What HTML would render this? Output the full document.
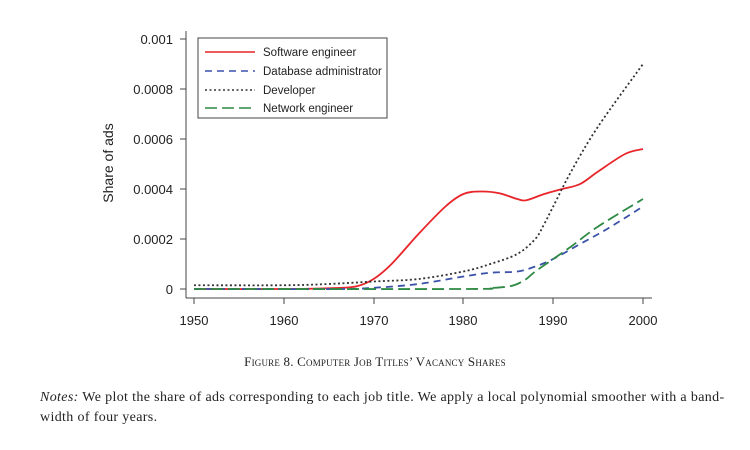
<!DOCTYPE html>
<html><head><meta charset="utf-8"><style>
body{margin:0;width:750px;height:450px;background:#fff;overflow:hidden;position:relative;font-family:"Liberation Sans",sans-serif}
.cap{position:absolute;left:0;width:750px;top:354px;text-align:center;font-family:"Liberation Serif",serif;font-size:13px;color:#222;font-variant:small-caps;letter-spacing:0.2px}
.notes{position:absolute;left:40px;width:710px;top:388px;font-family:"Liberation Serif",serif;font-size:14px;letter-spacing:0.35px;color:#222;line-height:20px;white-space:nowrap}
</style></head><body>
<svg id="s" width="750" height="340" style="position:absolute;left:0;top:0" font-family="Liberation Sans, sans-serif" font-size="13" fill="#222">
<line x1="186" y1="31" x2="186" y2="298" stroke="#444" stroke-width="1"/>
<line x1="186" y1="298" x2="652" y2="298" stroke="#444" stroke-width="1"/>
<g stroke="#444">
<line x1="180" y1="39" x2="186" y2="39"/><line x1="180" y1="89" x2="186" y2="89"/><line x1="180" y1="139" x2="186" y2="139"/><line x1="180" y1="189" x2="186" y2="189"/><line x1="180" y1="239" x2="186" y2="239"/><line x1="180" y1="289" x2="186" y2="289"/>
<line x1="194" y1="298" x2="194" y2="304"/><line x1="284" y1="298" x2="284" y2="304"/><line x1="374" y1="298" x2="374" y2="304"/><line x1="463" y1="298" x2="463" y2="304"/><line x1="553" y1="298" x2="553" y2="304"/><line x1="643" y1="298" x2="643" y2="304"/>
</g>
<g text-anchor="end">
<text x="173" y="44">0.001</text><text x="173" y="94">0.0008</text><text x="173" y="144">0.0006</text><text x="173" y="194">0.0004</text><text x="173" y="244">0.0002</text><text x="173" y="294">0</text>
</g>
<g text-anchor="middle">
<text x="194" y="325">1950</text><text x="284" y="325">1960</text><text x="374" y="325">1970</text><text x="463" y="325">1980</text><text x="553" y="325">1990</text><text x="643" y="325">2000</text>
</g>
<text transform="translate(113,163) rotate(-90)" text-anchor="middle" font-size="14">Share of ads</text>
<g id="curves"></g>
<rect x="198" y="38" width="189" height="80" fill="#fff" stroke="#444"/>
<line x1="205" y1="52" x2="255" y2="52" stroke="#e8252a" stroke-width="1.6"/>
<line x1="205" y1="71" x2="255" y2="71" stroke="#3a52a8" stroke-width="1.6" stroke-dasharray="7,5"/>
<line x1="205" y1="90" x2="255" y2="90" stroke="#333" stroke-width="1.6" stroke-dasharray="2,2.5"/>
<line x1="205" y1="108" x2="255" y2="108" stroke="#2e8a44" stroke-width="1.6" stroke-dasharray="12,5"/>
<g font-size="11.5"><text x="263" y="56">Software engineer</text><text x="263" y="75">Database administrator</text><text x="263" y="94">Developer</text><text x="263" y="112">Network engineer</text></g>
</svg>
<div class="cap">Figure 8. Computer Job Titles’ Vacancy Shares</div>
<div class="notes"><i>Notes:</i> We plot the share of ads corresponding to each job title. We apply a local polynomial smoother with a band-<br>width of four years.</div>
<script>
function X(y){return 194+(y-1950)*8.98}
function Y(v){return 289-v*250000}
function path(d){var p=d.map(function(a){return [X(a[0]),Y(a[1])]});var s="M"+p[0][0]+","+p[0][1];
for(var i=0;i<p.length-1;i++){var p0=p[i-1]||p[i],p1=p[i],p2=p[i+1],p3=p[i+2]||p2;
s+=" C"+(p1[0]+(p2[0]-p0[0])/6)+","+(p1[1]+(p2[1]-p0[1])/6)+" "+(p2[0]-(p3[0]-p1[0])/6)+","+(p2[1]-(p3[1]-p1[1])/6)+" "+p2[0]+","+p2[1];}return s}
var S=[
[[[1950,0],[1960,0],[1965,0.000003],[1968,0.00001],[1970,0.00004],[1972,0.0001],[1975,0.00022],[1978,0.00033],[1980,0.00038],[1982,0.00039],[1984,0.000383],[1986,0.00036],[1987,0.000355],[1989,0.00038],[1991,0.0004],[1993,0.00042],[1995,0.00047],[1998,0.00054],[2000,0.00056]],"#e8252a",""],
[[[1950,0],[1966,0],[1970,0.000005],[1975,0.00002],[1980,0.00005],[1983,0.000065],[1986,0.00007],[1988,0.00009],[1990,0.00012],[1993,0.00018],[1996,0.00024],[2000,0.00033]],"#3a52a8","7,5"],
[[[1950,0.000015],[1960,0.000015],[1965,0.00002],[1970,0.00003],[1975,0.00004],[1980,0.00007],[1983,0.0001],[1986,0.00014],[1988,0.0002],[1989,0.00026],[1990,0.00033],[1992,0.00047],[1995,0.00065],[2000,0.0009]],"#333","2,2.5"],
[[[1950,0],[1980,0],[1983,0.000004],[1985,0.00001],[1986,0.00002],[1987,0.00004],[1988,0.00007],[1990,0.00012],[1992,0.00017],[1995,0.00025],[2000,0.00036]],"#2e8a44","12,5"]];
var g=document.getElementById("curves"),h="";
S.forEach(function(c){h+='<path d="'+path(c[0])+'" fill="none" stroke="'+c[1]+'" stroke-width="1.8"'+(c[2]?' stroke-dasharray="'+c[2]+'"':'')+'/>'});
g.innerHTML=h;
</script>
</body></html>
